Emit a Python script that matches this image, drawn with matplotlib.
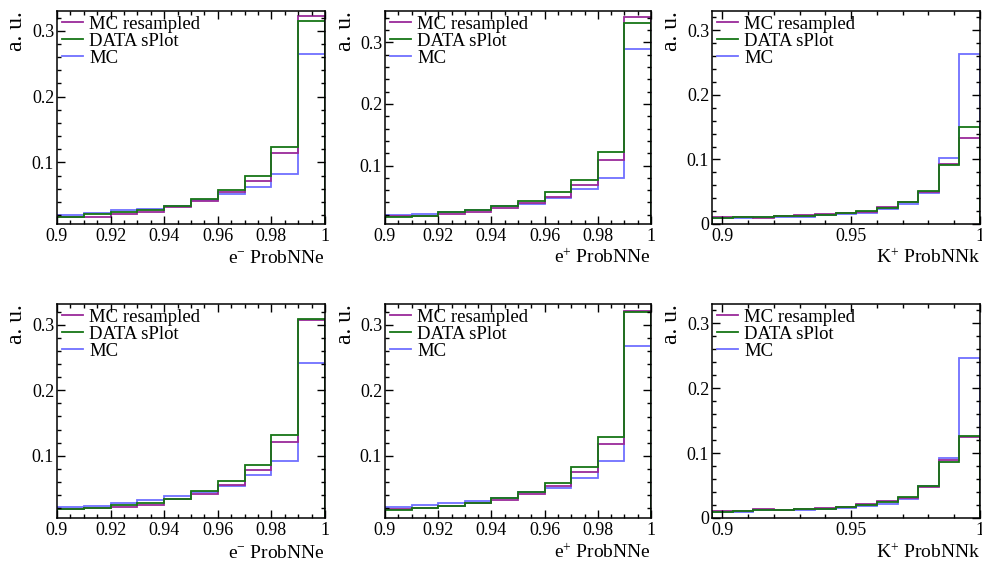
import matplotlib
matplotlib.use('Agg')
import matplotlib.pyplot as plt
import numpy as np
from matplotlib.ticker import MultipleLocator, FuncFormatter

plt.rcParams['font.family'] = ['Liberation Serif', 'DejaVu Serif']
plt.rcParams['mathtext.fontset'] = 'custom'
plt.rcParams['mathtext.rm'] = 'Liberation Serif'
plt.rcParams['mathtext.it'] = 'Liberation Serif:italic'

# bin edges
e_edges = np.linspace(0.9, 1.0, 11)
k_edges = np.linspace(0.896, 1.0, 14)

labels = ['MC resampled', 'DATA sPlot', 'MC']

# top row
mcres1 = [0.0170, 0.0175, 0.0218, 0.0248, 0.0318, 0.0410, 0.0545, 0.0725, 0.1150, 0.3230]
data1 = [0.0168, 0.0215, 0.0240, 0.0272, 0.0338, 0.0443, 0.0588, 0.0800, 0.1240, 0.3150]
mc1 = [0.0205, 0.0228, 0.0272, 0.0290, 0.0340, 0.0435, 0.0520, 0.0620, 0.0830, 0.2640]

mcres2 = [0.0173, 0.0186, 0.0208, 0.0238, 0.0303, 0.0392, 0.0490, 0.0688, 0.1085, 0.3410]
data2 = [0.0168, 0.0184, 0.0240, 0.0272, 0.0337, 0.0428, 0.0572, 0.0765, 0.1220, 0.3310]
mc2 = [0.0200, 0.0212, 0.0245, 0.0282, 0.0342, 0.0380, 0.0478, 0.0618, 0.0800, 0.2890]

mcres3 = [0.0114, 0.0114, 0.0100, 0.0120, 0.0140, 0.0155, 0.0166, 0.0190, 0.0260, 0.0340, 0.0497, 0.0927, 0.1330]
data3 = [0.0090, 0.0104, 0.0114, 0.0130, 0.0124, 0.0135, 0.0171, 0.0197, 0.0254, 0.0337, 0.0508, 0.0907, 0.1510]
mc3 = [0.0098, 0.0094, 0.0114, 0.0114, 0.0114, 0.0140, 0.0155, 0.0176, 0.0228, 0.0316, 0.0480, 0.1020, 0.2640]

# bottom row
mcres4 = [0.0180, 0.0195, 0.0225, 0.0255, 0.0335, 0.0410, 0.0550, 0.0780, 0.1205, 0.3066]
data4 = [0.0185, 0.0205, 0.0250, 0.0285, 0.0345, 0.0460, 0.0610, 0.0855, 0.1310, 0.3087]
mc4 = [0.0215, 0.0240, 0.0285, 0.0325, 0.0385, 0.0445, 0.0535, 0.0705, 0.0915, 0.2410]

mcres5 = [0.0185, 0.0205, 0.0235, 0.0275, 0.0325, 0.0410, 0.0535, 0.0750, 0.1185, 0.3220]
data5 = [0.0175, 0.0210, 0.0240, 0.0275, 0.0360, 0.0445, 0.0590, 0.0830, 0.1285, 0.3200]
mc5 = [0.0215, 0.0245, 0.0275, 0.0315, 0.0360, 0.0450, 0.0505, 0.0660, 0.0915, 0.2680]

mcres6 = [0.0108, 0.0103, 0.0134, 0.0120, 0.0144, 0.0160, 0.0170, 0.0211, 0.0263, 0.0314, 0.0480, 0.0890, 0.1255]
data6 = [0.0093, 0.0103, 0.0119, 0.0124, 0.0134, 0.0144, 0.0170, 0.0200, 0.0247, 0.0325, 0.0500, 0.0870, 0.1270]
mc6 = [0.0088, 0.0093, 0.0119, 0.0119, 0.0124, 0.0134, 0.0150, 0.0186, 0.0222, 0.0300, 0.0490, 0.0930, 0.2470]

panels = [
    (e_edges, mcres1, data1, mc1, r'e$^{-}$ ProbNNe', (0.0065, 0.33)),
    (e_edges, mcres2, data2, mc2, r'e$^{+}$ ProbNNe', (0.005, 0.351)),
    (k_edges, mcres3, data3, mc3, r'K$^{+}$ ProbNNk', (0.0, 0.33)),
    (e_edges, mcres4, data4, mc4, r'e$^{-}$ ProbNNe', (0.005, 0.3316)),
    (e_edges, mcres5, data5, mc5, r'e$^{+}$ ProbNNe', (0.005, 0.332)),
    (k_edges, mcres6, data6, mc6, r'K$^{+}$ ProbNNk', (0.0, 0.33)),
]

# axes boxes in pixels: left, top, right, bottom
W, H = 982, 563
boxes = [(57, 11, 325, 224), (385, 11, 651, 224), (712, 11, 980, 224),
         (57, 304, 325, 518), (385, 304, 651, 518), (712, 304, 980, 518)]

c_res = '#9a2a9a'
c_data = '#167516'
c_mc = '#7070ff'

fig = plt.figure(figsize=(W / 100, H / 100), dpi=100)

for (edges, res, dat, mc, xlab, ylim), (x0, y0, x1, y1) in zip(panels, boxes):
    ax = fig.add_axes([x0 / W, 1 - y1 / H, (x1 - x0) / W, (y1 - y0) / H])
    h_mc = ax.stairs(mc, edges, color=c_mc, lw=1.3)
    h_res = ax.stairs(res, edges, color=c_res, lw=1.3)
    h_dat = ax.stairs(dat, edges, color=c_data, lw=1.3)
    ax.set_xlim(edges[0], edges[-1])
    ax.set_ylim(*ylim)

    if len(edges) == 11:
        ax.xaxis.set_major_locator(MultipleLocator(0.02))
        ax.xaxis.set_minor_locator(MultipleLocator(0.005))
    else:
        ax.xaxis.set_major_locator(MultipleLocator(0.05))
        ax.xaxis.set_minor_locator(MultipleLocator(0.01))
    ax.yaxis.set_major_locator(MultipleLocator(0.1))
    ax.yaxis.set_minor_locator(MultipleLocator(0.02))
    fmt = FuncFormatter(lambda v, p: f'{v:g}')
    ax.xaxis.set_major_formatter(fmt)
    ax.yaxis.set_major_formatter(fmt)
    ax.tick_params(which='both', direction='in', top=True, right=True, width=1.0)
    ax.tick_params(which='major', length=5.5, labelsize=13)
    ax.tick_params(which='minor', length=2.8)
    ax.tick_params(axis='x', pad=3)
    ax.tick_params(axis='y', pad=2)
    for s in ax.spines.values():
        s.set_linewidth(1.1)

    ax.text(1.0, -0.185, xlab, transform=ax.transAxes, ha='right', va='baseline', fontsize=14)
    ax.text(-0.15, 1.0, 'a. u.', transform=ax.transAxes, rotation=90, ha='center', va='top', fontsize=17)

    ax.legend([h_res, h_dat, h_mc], labels, loc='upper left', bbox_to_anchor=(0.012, 0.988),
              frameon=False, fontsize=13.5, handlelength=1.12, handletextpad=0.32,
              borderpad=0.1, borderaxespad=0.0, labelspacing=0.0)

fig.savefig('out.png', dpi=100)
